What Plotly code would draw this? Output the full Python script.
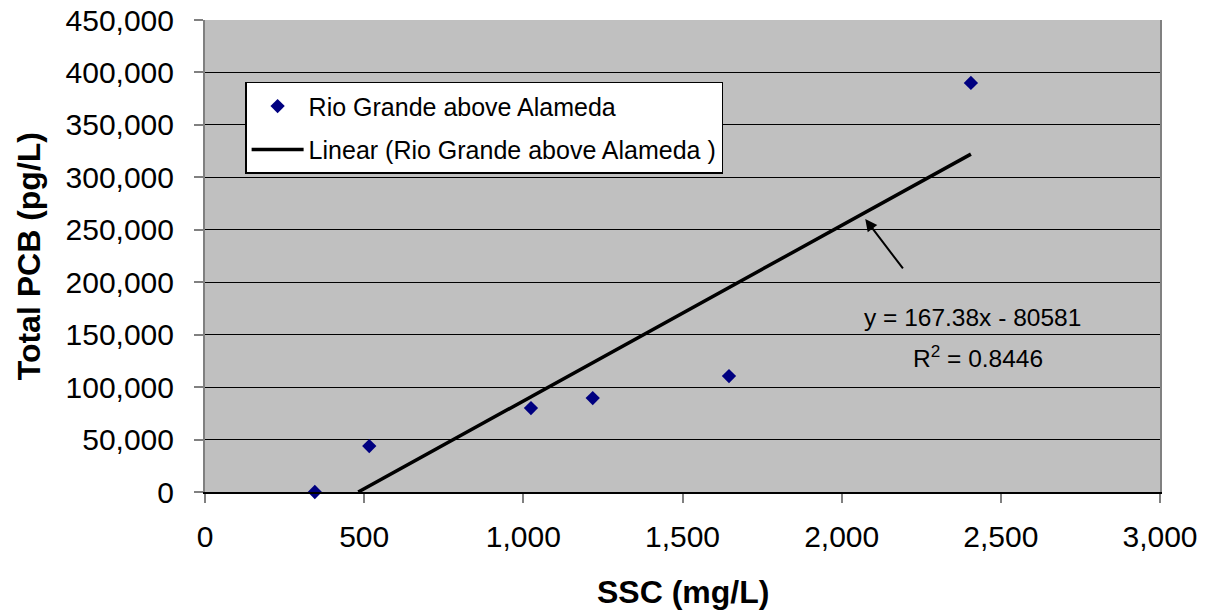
import plotly.graph_objects as go
import numpy as np

# Data
ssc = [345, 516, 1024, 1218, 1646, 2406]
pcb = [0, 43800, 80000, 89500, 110500, 390000]
series_name = "Rio Grande above Alameda"
trend_name = "Linear (Rio Grande above Alameda )"
slope = 167.38
intercept = -80581
r2 = 0.8446

x_ticks = [0, 500, 1000, 1500, 2000, 2500, 3000]
y_ticks = [0, 50000, 100000, 150000, 200000, 250000, 300000, 350000, 400000, 450000]

font_family = "Liberation Sans, Arial, sans-serif"

x_start = max(min(ssc), -intercept / slope)
tx = np.array([x_start, max(ssc)])
ty = slope * tx + intercept

fig = go.Figure()
fig.add_trace(go.Scatter(
    x=ssc, y=pcb, mode="markers", name=series_name,
    marker=dict(symbol="diamond", size=11, color="#000080",
                line=dict(width=0)),
    cliponaxis=False, legendgroup="a",
))
fig.add_trace(go.Scatter(
    x=tx, y=ty, mode="lines", name=trend_name,
    line=dict(color="black", width=3.5), legendgroup="b",
))

# equation annotation
fig.add_annotation(x=2412, y=166000, text=f"y = {slope}x - {abs(intercept)}",
                   showarrow=False, font=dict(size=24.5, color="black", family=font_family),
                   xanchor="center", yanchor="middle")
fig.add_annotation(x=2428, y=129000, text=f"R<sup>2</sup> = {r2}",
                   showarrow=False, font=dict(size=24.5, color="black", family=font_family),
                   xanchor="center", yanchor="middle")
# arrow pointing to trendline
fig.add_annotation(x=2074, y=260300, ax=2196, ay=211700,
                   xref="x", yref="y", axref="x", ayref="y",
                   text="", showarrow=True, arrowhead=2, arrowsize=1.2,
                   arrowwidth=2, arrowcolor="black")

# axis titles
fig.add_annotation(xref="paper", yref="paper", x=0.5, y=-0.211,
                   text="<b>SSC (mg/L)</b>", showarrow=False,
                   font=dict(size=32, family=font_family, color="black"),
                   xanchor="center", yanchor="middle")
fig.add_annotation(xref="paper", yref="paper", x=-0.184, y=0.5,
                   text="<b>Total PCB (pg/L)</b>", showarrow=False, textangle=-90,
                   font=dict(size=32, family=font_family, color="black"),
                   xanchor="center", yanchor="middle")

fig.update_layout(
    width=1210, height=616,
    margin=dict(l=204.5, r=50, t=20, b=124),
    paper_bgcolor="white",
    plot_bgcolor="#C0C0C0",
    font=dict(family=font_family, color="black", size=30),
    showlegend=True,
    hovermode=False,
    legend=dict(
        x=0.042, y=0.869, xanchor="left", yanchor="top",
        bgcolor="white", bordercolor="black", borderwidth=1.5,
        font=dict(size=25, family=font_family),
        itemwidth=52, tracegroupgap=8,
    ),
)
fig.update_xaxes(
    range=[0, 3000], tickvals=x_ticks, tickformat=",d",
    showgrid=False, zeroline=False, automargin=False,
    showline=True, linecolor="black", linewidth=1.5,
    ticks="outside", ticklen=9, tickcolor="#808080", tickwidth=2,
    tickfont=dict(size=30), ticklabelstandoff=8,
)
fig.update_yaxes(
    range=[0, 450000], tickvals=y_ticks, tickformat=",d",
    showgrid=True, gridcolor="black", gridwidth=1.2, zeroline=False,
    automargin=False,
    showline=True, linecolor="#808080", linewidth=2, mirror=True,
    ticks="outside", ticklen=9, tickcolor="#808080", tickwidth=2,
    tickfont=dict(size=30), ticklabelstandoff=14,
)

# remove the page's default 8px body margin so the figure fills the window
fig.write_html("out.html", config={"displayModeBar": False},
               post_script="document.body.style.margin='0px';")
